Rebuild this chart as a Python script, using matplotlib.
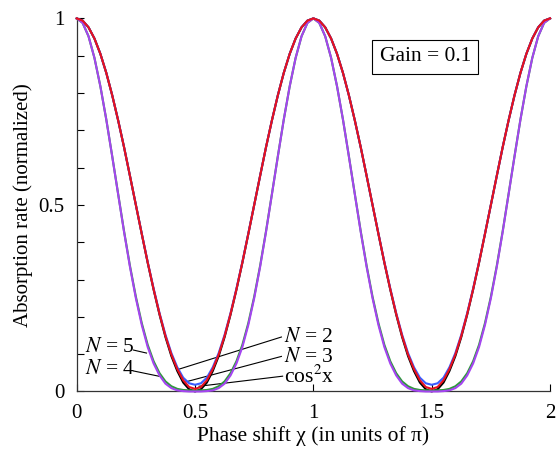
import numpy as np
import matplotlib
matplotlib.use('Agg')
import matplotlib.pyplot as plt

# phase shift grid (units of pi), step 0.025
chi = np.linspace(0, 2, 81)

# values, one per grid point
cos2 = [1.000, 0.994, 0.976, 0.946, 0.905, 0.854, 0.794, 0.727, 0.655, 0.578, 0.500,
        0.422, 0.345, 0.273, 0.206, 0.146, 0.095, 0.055, 0.024, 0.006, 0.000,
        0.006, 0.024, 0.055, 0.095, 0.146, 0.206, 0.273, 0.345, 0.422, 0.500,
        0.578, 0.655, 0.727, 0.794, 0.854, 0.905, 0.946, 0.976, 0.994, 1.000,
        0.994, 0.976, 0.946, 0.905, 0.854, 0.794, 0.727, 0.655, 0.578, 0.500,
        0.422, 0.345, 0.273, 0.206, 0.146, 0.095, 0.055, 0.024, 0.006, 0.000,
        0.006, 0.024, 0.055, 0.095, 0.146, 0.206, 0.273, 0.345, 0.422, 0.500,
        0.578, 0.655, 0.727, 0.794, 0.854, 0.905, 0.946, 0.976, 0.994, 1.000]
n2 = [1.000, 0.994, 0.976, 0.946, 0.905, 0.854, 0.794, 0.727, 0.655, 0.578, 0.500,
      0.423, 0.347, 0.276, 0.210, 0.152, 0.103, 0.065, 0.037, 0.022, 0.018,
      0.022, 0.037, 0.065, 0.103, 0.152, 0.210, 0.276, 0.347, 0.423, 0.500,
      0.578, 0.655, 0.727, 0.794, 0.854, 0.905, 0.946, 0.976, 0.994, 1.000,
      0.994, 0.976, 0.946, 0.905, 0.854, 0.794, 0.727, 0.655, 0.578, 0.500,
      0.423, 0.347, 0.276, 0.210, 0.152, 0.103, 0.065, 0.037, 0.022, 0.018,
      0.022, 0.037, 0.065, 0.103, 0.152, 0.210, 0.276, 0.347, 0.423, 0.500,
      0.578, 0.655, 0.727, 0.794, 0.854, 0.905, 0.946, 0.976, 0.994, 1.000]
n3 = [1.000, 0.994, 0.976, 0.946, 0.905, 0.854, 0.794, 0.727, 0.655, 0.578, 0.500,
      0.422, 0.346, 0.274, 0.208, 0.149, 0.099, 0.060, 0.030, 0.012, 0.007,
      0.012, 0.030, 0.060, 0.099, 0.149, 0.208, 0.274, 0.346, 0.422, 0.500,
      0.578, 0.655, 0.727, 0.794, 0.854, 0.905, 0.946, 0.976, 0.994, 1.000,
      0.994, 0.976, 0.946, 0.905, 0.854, 0.794, 0.727, 0.655, 0.578, 0.500,
      0.422, 0.346, 0.274, 0.208, 0.149, 0.099, 0.060, 0.030, 0.012, 0.007,
      0.012, 0.030, 0.060, 0.099, 0.149, 0.208, 0.274, 0.346, 0.422, 0.500,
      0.578, 0.655, 0.727, 0.794, 0.854, 0.905, 0.946, 0.976, 0.994, 1.000]
n4 = [1.000, 0.988, 0.952, 0.894, 0.818, 0.729, 0.631, 0.530, 0.430, 0.337, 0.254,
      0.183, 0.125, 0.081, 0.049, 0.027, 0.014, 0.007, 0.004, 0.003, 0.003,
      0.003, 0.004, 0.007, 0.014, 0.027, 0.049, 0.081, 0.125, 0.183, 0.254,
      0.337, 0.430, 0.530, 0.631, 0.729, 0.818, 0.894, 0.952, 0.988, 1.000,
      0.988, 0.952, 0.894, 0.818, 0.729, 0.631, 0.530, 0.430, 0.337, 0.254,
      0.183, 0.125, 0.081, 0.049, 0.027, 0.014, 0.007, 0.004, 0.003, 0.003,
      0.003, 0.004, 0.007, 0.014, 0.027, 0.049, 0.081, 0.125, 0.183, 0.254,
      0.337, 0.430, 0.530, 0.631, 0.729, 0.818, 0.894, 0.952, 0.988, 1.000]
n5 = [1.000, 0.988, 0.952, 0.894, 0.818, 0.729, 0.630, 0.529, 0.428, 0.334, 0.250,
      0.178, 0.119, 0.075, 0.043, 0.021, 0.009, 0.003, 0.001, 0.000, 0.000,
      0.000, 0.001, 0.003, 0.009, 0.021, 0.043, 0.075, 0.119, 0.178, 0.250,
      0.334, 0.428, 0.529, 0.630, 0.729, 0.818, 0.894, 0.952, 0.988, 1.000,
      0.988, 0.952, 0.894, 0.818, 0.729, 0.630, 0.529, 0.428, 0.334, 0.250,
      0.178, 0.119, 0.075, 0.043, 0.021, 0.009, 0.003, 0.001, 0.000, 0.000,
      0.000, 0.001, 0.003, 0.009, 0.021, 0.043, 0.075, 0.119, 0.178, 0.250,
      0.334, 0.428, 0.529, 0.630, 0.729, 0.818, 0.894, 0.952, 0.988, 1.000]

xticks = [0, 0.5, 1, 1.5, 2]
xticklabels = ['0', '0.5', '1', '1.5', '2']
yticks = [0, 0.5, 1]
yticklabels = ['0', '0.5', '1']

plt.rcParams['font.family'] = ['Liberation Serif', 'DejaVu Serif']
plt.rcParams['mathtext.fontset'] = 'stix'

fig = plt.figure(figsize=(5.57, 4.53), dpi=100)
ax = fig.add_axes([0.1377, 0.1358, 0.8498, 0.8236])

lw = 1.5
ax.plot(chi, cos2, color='black', lw=lw, clip_on=False, zorder=3)
ax.plot(chi, n2, color='#3a5cff', lw=lw, clip_on=False, zorder=3)
ax.plot(chi, n4, color='#2e9a3a', lw=lw, clip_on=False, zorder=3)
ax.plot(chi, n5, color='#a445f0', lw=lw, clip_on=False, zorder=3)
ax.plot(chi, n3, color='#e8101e', lw=lw, clip_on=False, zorder=4)

ax.set_xlim(0, 2)
ax.set_ylim(0, 1)
ax.set_xticks(xticks)
ax.set_xticklabels(xticklabels)
ax.set_yticks(yticks)
ax.set_yticklabels(yticklabels)
ax.set_yticks(np.arange(0, 1.01, 0.1), minor=True)
ax.tick_params(direction='in', length=5, width=0.8, labelsize=15)
ax.tick_params(axis='y', pad=9)
ax.tick_params(axis='x', pad=9)
ax.tick_params(which='minor', direction='in', length=5, width=0.8)
for s in ['top', 'right']:
    ax.spines[s].set_visible(False)
for s in ['left', 'bottom']:
    ax.spines[s].set_linewidth(0.9)
    ax.spines[s].set_color('#333333')

ax.set_xlabel('Phase shift χ (in units of π)', fontsize=15.5, labelpad=2)
ax.set_ylabel('Absorption rate (normalized)', fontsize=15, labelpad=4)

ax.text(1.473, 0.897, 'Gain = 0.1', fontsize=15.5, ha='center', va='center',
        bbox=dict(boxstyle='square,pad=0.35', fc='white', ec='black', lw=0.8))

# curve labels with leader lines
fs = 15.5
ax.text(0.035, 0.117, '$N$ = 5', fontsize=fs, ha='left', va='center')
ax.plot([0.24, 0.295], [0.111, 0.103], color='black', lw=0.8)
ax.text(0.035, 0.058, '$N$ = 4', fontsize=fs, ha='left', va='center')
ax.plot([0.24, 0.362], [0.055, 0.039], color='black', lw=0.8)
ax.text(0.878, 0.144, '$N$ = 2', fontsize=fs, ha='left', va='center')
ax.plot([0.865, 0.433], [0.146, 0.060], color='black', lw=0.8)
ax.text(0.878, 0.092, '$N$ = 3', fontsize=fs, ha='left', va='center')
ax.plot([0.865, 0.462], [0.094, 0.026], color='black', lw=0.8)
ax.text(0.878, 0.040, 'cos$^2$x', fontsize=fs, ha='left', va='center')
ax.plot([0.87, 0.517], [0.041, 0.014], color='black', lw=0.8)

fig.savefig('out.png', dpi=100)
